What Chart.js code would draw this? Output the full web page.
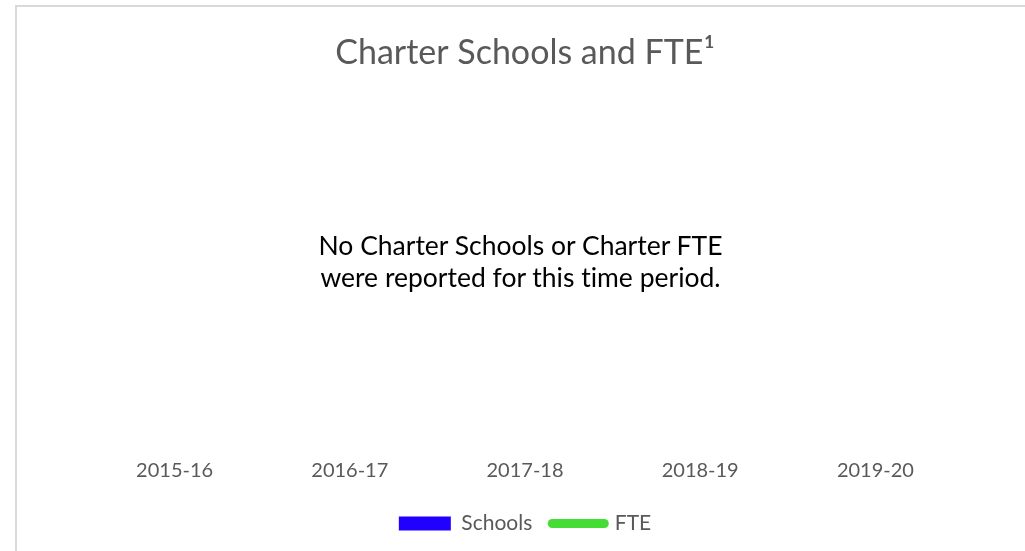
<!DOCTYPE html>
<html lang="en">

<head>
    <meta charset="UTF-8">
    <title>Charter Schools and FTE</title>
    <script src="https://cdn.jsdelivr.net/npm/chart.js"></script>
    <style>
        body {
            margin: 0;
            background: #fff;
            font-family: Lato, sans-serif;
            overflow: hidden;
        }

        .frame {
            position: absolute;
            left: 15px;
            top: 5px;
            width: 1100px;
            height: 700px;
            border: 2px solid #d9d9d9;
        }

        .chart-container {
            position: absolute;
            left: 0;
            top: 0;
            width: 1025px;
            height: 551px;
        }

        .no-data {
            position: absolute;
            left: 8px;
            width: 1025px;
            top: 229px;
            text-align: center;
            font-size: 26.5px;
            line-height: 32px;
            font-variant-ligatures: none;
            color: #000;
        }
    </style>
</head>

<body>
    <div class="frame"></div>
    <div class="chart-container">
        <canvas id="charterChart"></canvas>
    </div>
    <div class="no-data">No Charter Schools or Charter FTE<br>were reported for this time period.</div>

    <script>
        // School years on the x axis
        const years = ['2015-16', '2016-17', '2017-18', '2018-19', '2019-20'];

        // Nothing was reported, so both series are empty
        const schools = [null, null, null, null, null];
        const fte = [null, null, null, null, null];

        const grey = '#595959';

        const ctx = document.getElementById('charterChart').getContext('2d');
        new Chart(ctx, {
            data: {
                labels: years,
                datasets: [
                    {
                        type: 'bar',
                        label: 'Schools',
                        data: schools,
                        backgroundColor: '#2200ff',
                        yAxisID: 'y'
                    },
                    {
                        type: 'line',
                        label: 'FTE',
                        data: fte,
                        borderColor: '#44dd33',
                        backgroundColor: '#44dd33',
                        borderWidth: 9,
                        yAxisID: 'y1'
                    }
                ]
            },
            options: {
                responsive: true,
                maintainAspectRatio: false,
                animation: false,
                layout: {
                    padding: { left: 87, right: 62, top: 24, bottom: 7 }
                },
                plugins: {
                    title: {
                        display: true,
                        text: 'Charter Schools and FTE\u00b9',
                        color: grey,
                        font: { family: 'Lato', size: 34, weight: 'normal' },
                        padding: { top: 9, bottom: 10 }
                    },
                    legend: {
                        position: 'bottom',
                        labels: {
                            color: grey,
                            font: { family: 'Lato', size: 21 },
                            usePointStyle: true,
                            pointStyleWidth: 52,
                            boxHeight: 14,
                            padding: 20,
                            generateLabels: function (chart) {
                                return [
                                    {
                                        text: 'Schools',
                                        fillStyle: '#2200ff',
                                        strokeStyle: '#2200ff',
                                        lineWidth: 0,
                                        pointStyle: 'rect',
                                        fontColor: grey,
                                        datasetIndex: 0
                                    },
                                    {
                                        text: 'FTE',
                                        fillStyle: '#44dd33',
                                        strokeStyle: '#44dd33',
                                        lineWidth: 9,
                                        lineCap: 'round',
                                        pointStyle: 'line',
                                        fontColor: grey,
                                        datasetIndex: 1
                                    }
                                ];
                            }
                        }
                    },
                    tooltip: { enabled: false }
                },
                scales: {
                    x: {
                        grid: { display: false },
                        border: { display: false },
                        ticks: {
                            color: grey,
                            font: { family: 'Lato', size: 20 },
                            padding: 8
                        },
                        // empty title only keeps a small gap above the legend
                        title: {
                            display: true,
                            text: '',
                            font: { size: 1 },
                            padding: { top: 1, bottom: 0 }
                        }
                    },
                    y: {
                        display: false,
                        beginAtZero: true
                    },
                    y1: {
                        display: false,
                        position: 'right',
                        beginAtZero: true
                    }
                }
            }
        });
    </script>
</body>

</html>
